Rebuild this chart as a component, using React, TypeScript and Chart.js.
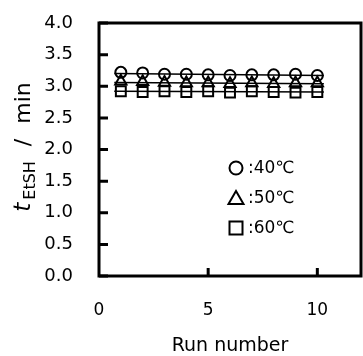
import React, { useEffect, useRef } from "react";
import { Chart, registerables } from "chart.js";

Chart.register(...registerables);

const runs = [1, 2, 3, 4, 5, 6, 7, 8, 9, 10];
const t40 = [3.22, 3.21, 3.19, 3.19, 3.18, 3.17, 3.18, 3.18, 3.19, 3.17];
const t50 = [3.08, 3.07, 3.06, 3.05, 3.05, 3.04, 3.05, 3.04, 3.05, 3.05];
const t60 = [2.92, 2.91, 2.92, 2.91, 2.92, 2.90, 2.92, 2.91, 2.90, 2.91];
const fitX = [0.7, 10.3];
const fit40 = [3.2, 3.17];
const fit50 = [3.06, 3.04];
const fit60 = [2.92, 2.91];
const legendLabels = [":40℃", ":50℃", ":60℃"];
const legendStyles = ["circle", "triangle", "rect"];
const yTicks = [0, 0.5, 1, 1.5, 2, 2.5, 3, 3.5, 4];
const xTicks = [5, 10];
const xLabelTicks = [0, 5, 10];

const FONT = "'DejaVu Sans', sans-serif";

const pts = (xs: number[], ys: number[]) => xs.map((x, i) => ({ x, y: ys[i] }));

export default function App() {
  const ref = useRef<HTMLCanvasElement>(null);
  useEffect(() => {
    const frame = {
      id: "frame",
      afterDatasetsDraw(chart: any) {
        const { ctx, chartArea: a, scales } = chart;
        ctx.save();
        ctx.strokeStyle = "#000";
        ctx.lineWidth = 3;
        ctx.strokeRect(a.left, a.top, a.right - a.left, a.bottom - a.top);
        ctx.beginPath();
        yTicks.forEach((v) => {
          const y = scales.y.getPixelForValue(v);
          ctx.moveTo(a.left, y);
          ctx.lineTo(a.left + 9, y);
        });
        xTicks.forEach((v) => {
          const x = scales.x.getPixelForValue(v);
          ctx.moveTo(x, a.bottom);
          ctx.lineTo(x, a.bottom - 8);
        });
        ctx.stroke();
        // legend
        const lx = 236;
        const ly0 = 168;
        legendLabels.forEach((lab, i) => {
          const cy = ly0 + i * 30;
          ctx.lineWidth = 2;
          ctx.beginPath();
          const st = legendStyles[i];
          if (st === "circle") {
            ctx.arc(lx, cy, 6.5, 0, Math.PI * 2);
          } else if (st === "triangle") {
            ctx.moveTo(lx, cy - 7);
            ctx.lineTo(lx + 7.5, cy + 6);
            ctx.lineTo(lx - 7.5, cy + 6);
            ctx.closePath();
          } else {
            ctx.rect(lx - 6.5, cy - 6.5, 13, 13);
          }
          ctx.stroke();
          ctx.fillStyle = "#000";
          ctx.font = `17px ${FONT}`;
          ctx.textBaseline = "middle";
          ctx.textAlign = "left";
          ctx.fillText(lab, lx + 12, cy + 1);
        });
        // y title
        ctx.translate(30, 147);
        ctx.rotate(-Math.PI / 2);
        ctx.textBaseline = "alphabetic";
        const parts = [
          { s: "t", f: `italic 23px ${FONT}`, dy: 0, gap: 3 },
          { s: "EtSH", f: `16px ${FONT}`, dy: 5, gap: 15 },
          { s: "/", f: `22px ${FONT}`, dy: 0, gap: 15 },
          { s: "min", f: `22px ${FONT}`, dy: 0, gap: 0 },
        ];
        let total = 0;
        const widths = parts.map((p) => {
          ctx.font = p.f;
          const w = ctx.measureText(p.s).width;
          total += w + p.gap;
          return w;
        });
        let x = -total / 2;
        parts.forEach((p, i) => {
          ctx.font = p.f;
          ctx.fillText(p.s, x, p.dy);
          x += widths[i] + p.gap;
        });
        ctx.restore();
      },
    };

    const markerDs = (label: string, data: number[], style: string, r: number) => ({
      type: "scatter" as const,
      label,
      data: pts(runs, data),
      pointStyle: style,
      pointRadius: r,
      pointBorderWidth: 2,
      borderColor: "#000",
      backgroundColor: "rgba(0,0,0,0)",
      showLine: false,
    });
    const lineDs = (label: string, data: number[]) => ({
      type: "line" as const,
      label,
      data: pts(fitX, data),
      borderColor: "#000",
      borderWidth: 1.5,
      pointRadius: 0,
      fill: false,
    });

    const hiddenGrid = (len: number) => ({
      display: true,
      drawOnChartArea: false,
      drawTicks: true,
      tickLength: len,
      tickColor: "rgba(0,0,0,0)",
      color: "rgba(0,0,0,0)",
    });

    const chart = new Chart(ref.current!, {
      type: "scatter",
      data: {
        datasets: [
          lineDs("fit40", fit40),
          lineDs("fit50", fit50),
          lineDs("fit60", fit60),
          markerDs("40℃", t40, "circle", 5.5),
          markerDs("50℃", t50, "triangle", 6.5),
          markerDs("60℃", t60, "rect", 7),
        ] as any,
      },
      options: {
        animation: false,
        responsive: false,
        layout: { autoPadding: false, padding: { top: 23, right: 2, left: 0, bottom: 0 } },
        plugins: { legend: { display: false }, tooltip: { enabled: false } },
        scales: {
          x: {
            type: "linear",
            min: 0,
            max: 12,
            afterFit: (s: any) => {
              s.height = 80;
              s.paddingLeft = 0;
              s.paddingRight = 0;
            },
            afterBuildTicks: (s: any) => {
              s.ticks = xLabelTicks.map((v) => ({ value: v }));
            },
            grid: hiddenGrid(22),
            border: { display: false },
            ticks: {
              color: "#000",
              font: { family: FONT, size: 17 },
              padding: 2,
              maxRotation: 0,
            },
            title: {
              display: true,
              text: "Run number",
              color: "#000",
              font: { family: FONT, size: 19, lineHeight: 1 },
              padding: { top: 0, bottom: 0 },
            },
          },
          y: {
            type: "linear",
            min: 0,
            max: 4,
            afterFit: (s: any) => {
              s.width = 99;
              s.paddingLeft = 0;
              s.paddingRight = 0;
            },
            afterBuildTicks: (s: any) => {
              s.ticks = yTicks.map((v) => ({ value: v }));
            },
            grid: hiddenGrid(24),
            border: { display: false },
            ticks: {
              color: "#000",
              font: { family: FONT, size: 18 },
              padding: 2,
              callback: (v: any) => Number(v).toFixed(1),
            },
          },
        },
      },
      plugins: [frame],
    });
    return () => chart.destroy();
  }, []);
  return (
    <div style={{ position: "fixed", left: 0, top: 0, width: 363, height: 356, background: "#fff" }}>
      <canvas ref={ref} width={363} height={356} style={{ display: "block" }} />
    </div>
  );
}
